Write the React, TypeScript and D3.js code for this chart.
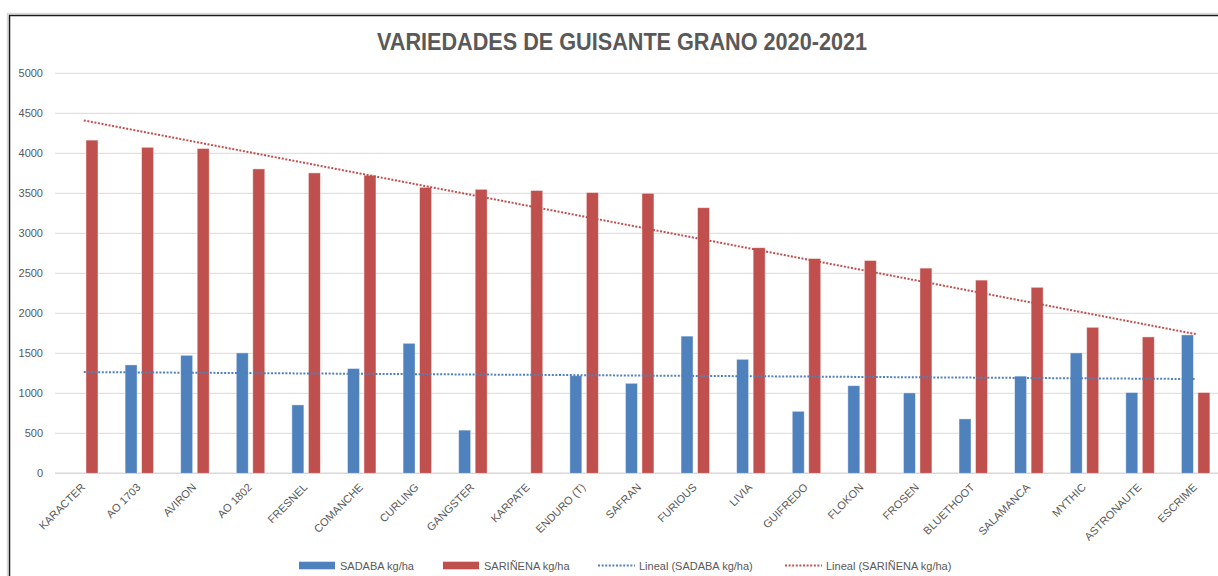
import { useEffect, useRef } from "react"
import * as d3 from "d3"

const varieties = [
  "KARACTER", "AO 1703", "AVIRON", "AO 1802", "FRESNEL", "COMANCHE", "CURLING",
  "GANGSTER", "KARPATE", "ENDURO (T)", "SAFRAN", "FURIOUS", "LIVIA", "GUIFREDO",
  "FLOKON", "FROSEN", "BLUETHOOT", "SALAMANCA", "MYTHIC", "ASTRONAUTE", "ESCRIME",
]
const sadaba: (number | null)[] = [
  null, 1355, 1475, 1505, 855, 1310, 1625, 540, null, 1220, 1125,
  1715, 1425, 775, 1095, 1005, 680, 1215, 1505, 1010, 1730,
]
const sarinena: (number | null)[] = [
  4165, 4075, 4060, 3805, 3755, 3725, 3575, 3550, 3535, 3510, 3500,
  3320, 2820, 2685, 2660, 2565, 2415, 2325, 1825, 1705, 1010,
]
const yTicks = [0, 500, 1000, 1500, 2000, 2500, 3000, 3500, 4000, 4500, 5000]

const BLUE = "#4F81BD"
const RED = "#C0504D"
const TEXT = "#595959"
const FONT = "'Liberation Sans', Arial, sans-serif"

// linear trend (Excel "Lineal"), blanks skipped
function trend(vals: (number | null)[]) {
  const pts = vals.map((v, i) => [i + 1, v] as [number, number | null]).filter((p) => p[1] != null) as [number, number][]
  const mx = d3.mean(pts, (p) => p[0])!
  const my = d3.mean(pts, (p) => p[1])!
  const num = d3.sum(pts, (p) => (p[0] - mx) * (p[1] - my))
  const den = d3.sum(pts, (p) => (p[0] - mx) ** 2)
  const b = num / den
  const a = my - b * mx
  return (i: number) => a + b * (i + 1)
}

export default function App() {
  const ref = useRef<SVGSVGElement>(null)

  useEffect(() => {
    const W = 1218, H = 576
    const svg = d3.select(ref.current)
    svg.selectAll("*").remove()

    svg.append("rect").attr("width", W).attr("height", H).attr("fill", "#fff")

    // frame
    svg.append("path").attr("d", `M7.5,${H} V13.5 H${W}`).attr("fill", "none").attr("stroke", "#d9d9d9").attr("stroke-width", 1.5)
    svg.append("path").attr("d", `M9.5,${H} V15.5 H${W}`).attr("fill", "none").attr("stroke", "#1a1a1a").attr("stroke-width", 1.5)

    const x = d3.scaleBand().domain(varieties).range([56, 1223.5])
    const y = d3.scaleLinear().domain([0, 5000]).range([473.3, 73.3])
    const cx = (name: string) => x(name)! + x.bandwidth() / 2

    svg.append("text")
      .attr("x", 622).attr("y", 49.5)
      .attr("text-anchor", "middle")
      .attr("font-family", FONT).attr("font-weight", "bold").attr("font-size", 24)
      .attr("fill", TEXT)
      .attr("textLength", 490).attr("lengthAdjust", "spacingAndGlyphs")
      .text("VARIEDADES DE GUISANTE GRANO 2020-2021")

    // grid + y labels
    const grid = svg.append("g")
    grid.selectAll("line").data(yTicks).enter().append("line")
      .attr("x1", 55).attr("x2", W)
      .attr("y1", (d) => y(d)).attr("y2", (d) => y(d))
      .attr("stroke", "#d9d9d9").attr("stroke-width", (d) => (d === 0 ? 1.6 : 1))
    grid.selectAll("text").data(yTicks).enter().append("text")
      .attr("x", 43).attr("y", (d) => y(d) + 4)
      .attr("text-anchor", "end")
      .attr("font-family", FONT).attr("font-size", 11).attr("fill", TEXT)
      .text((d) => d)

    const bw = 12
    svg.append("g").selectAll("rect").data(varieties.filter((_, i) => sadaba[i] != null)).enter().append("rect")
      .attr("x", (d) => cx(d) - 14.3)
      .attr("width", bw)
      .attr("y", (d) => y(sadaba[varieties.indexOf(d)]!))
      .attr("height", (d) => y(0) - y(sadaba[varieties.indexOf(d)]!))
      .attr("fill", BLUE).attr("stroke", "rgba(255,255,255,0.55)").attr("stroke-width", 0.8)
    svg.append("g").selectAll("rect").data(varieties.filter((_, i) => sarinena[i] != null)).enter().append("rect")
      .attr("x", (d) => cx(d) + 2.2)
      .attr("width", bw)
      .attr("y", (d) => y(sarinena[varieties.indexOf(d)]!))
      .attr("height", (d) => y(0) - y(sarinena[varieties.indexOf(d)]!))
      .attr("fill", RED).attr("stroke", "rgba(255,255,255,0.55)").attr("stroke-width", 0.8)

    // trendlines
    const lines = [
      { f: trend(sadaba), c: BLUE },
      { f: trend(sarinena), c: RED },
    ]
    const n = varieties.length
    lines.forEach(({ f, c }) => {
      svg.append("line")
        .attr("x1", cx(varieties[0])).attr("y1", y(f(0)))
        .attr("x2", cx(varieties[n - 1])).attr("y2", y(f(n - 1)))
        .attr("stroke", c).attr("stroke-width", 2).attr("stroke-dasharray", "2 1.6")
    })

    // x labels
    svg.append("g").selectAll("text").data(varieties).enter().append("text")
      .attr("transform", (d) => `translate(${cx(d) + 2},${488}) rotate(-45)`)
      .attr("text-anchor", "end")
      .attr("font-family", FONT).attr("font-size", 11).attr("fill", TEXT)
      .text((d) => d)

    // legend
    const lg = svg.append("g").attr("font-family", FONT).attr("font-size", 11).attr("fill", TEXT)
    const ly = 565.5
    const items = [
      { type: "bar", c: BLUE, x0: 299, label: "SADABA kg/ha" },
      { type: "bar", c: RED, x0: 443, label: "SARIÑENA kg/ha" },
      { type: "line", c: BLUE, x0: 598, label: "Lineal (SADABA kg/ha)" },
      { type: "line", c: RED, x0: 785, label: "Lineal (SARIÑENA kg/ha)" },
    ]
    items.forEach((it) => {
      if (it.type === "bar") {
        lg.append("rect").attr("x", it.x0).attr("y", ly - 3.8).attr("width", 36).attr("height", 7.6).attr("fill", it.c)
      } else {
        lg.append("line").attr("x1", it.x0).attr("x2", it.x0 + 37).attr("y1", ly).attr("y2", ly)
          .attr("stroke", it.c).attr("stroke-width", 2).attr("stroke-dasharray", "2 1.6")
      }
      lg.append("text").attr("x", it.x0 + 41).attr("y", ly + 4).text(it.label)
    })
  }, [])

  return (
    <svg
      ref={ref}
      width={1218}
      height={576}
      style={{ position: "absolute", left: 0, top: 0, display: "block" }}
    />
  )
}
